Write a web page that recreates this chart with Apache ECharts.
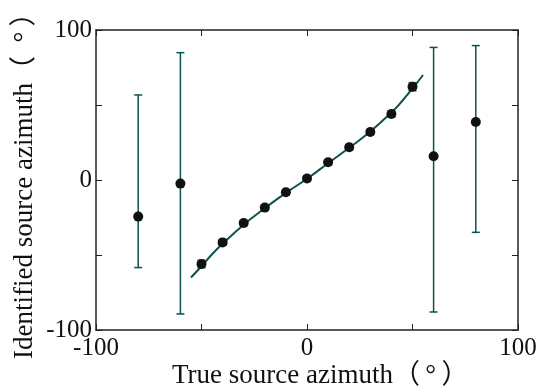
<!DOCTYPE html>
<html><head><meta charset="utf-8">
<script src="https://cdn.jsdelivr.net/npm/echarts@6/dist/echarts.min.js"></script>
<style>html,body{margin:0;padding:0;background:#fff}#c{width:541px;height:387px}</style>
</head><body><div id="c"></div>
<script>
// True source azimuth (deg)
const trueAz = [-80, -60, -50, -40, -30, -20, -10, 0, 10, 20, 30, 40, 50, 60, 80];
// Identified source azimuth mean (deg)
const identAz = [-24.4, -2.4, -56, -41.6, -28.7, -18.4, -8.2, 1.0, 11.8, 21.8, 32, 44, 62.2, 15.8, 38.7];
// error bar lower / upper ends (deg)
const errLow = [-58.4, -89.3, -58.5, -43.5, -30.5, -20, -10, -0.8, 10, 20, 30.3, 42, 59.5, -88, -34.9];
const errHigh = [56.7, 84.9, -53.5, -39.7, -27, -16.8, -6.4, 2.8, 13.6, 23.6, 33.7, 46, 64.9, 88.4, 89.6];
// fitted curve samples
const curveX = [-55, -50, -45, -40, -30, -20, -10, 0, 10, 20, 30, 40, 45, 50, 55];
const curveY = [-65, -57.5, -49.5, -42.5, -29.8, -18.8, -8.6, 0.8, 11.2, 21.5, 32.3, 45, 52.5, 61, 70];
const axisTicks = [-100, 0, 100];
const xTitle = 'True source azimuth（\u2009°\u2009）';
const yTitle = 'Identified source azimuth（\u2002°\u2009）';

const dark = '#0b5252';
const font = '"Liberation Serif", "Times New Roman", serif';
const titleFont = '"Liberation Serif", "Noto Sans CJK JP", serif';

const chart = echarts.init(document.getElementById('c'));
const fmt = v => (axisTicks.indexOf(v) >= 0 ? String(v) : '');
const axisCommon = {
  type: 'value', min: -100, max: 100, interval: 50,
  splitLine: {show: false},
  axisLine: {show: true, onZero: false, lineStyle: {color: '#222', width: 1.5}},
  axisTick: {show: true, inside: true, length: 6, lineStyle: {color: '#222', width: 1}}
};
chart.setOption({
  animation: false,
  grid: {left: 96, right: 23, top: 30, bottom: 57},
  graphic: [
    {type: 'text', x: 172, y: 376, style: {text: xTitle, font: '27px ' + titleFont, fill: '#111', align: 'left', verticalAlign: 'middle'}},
    {type: 'text', x: 25, y: 359, rotation: Math.PI / 2, style: {text: yTitle, font: '27px ' + titleFont, fill: '#111', align: 'left', verticalAlign: 'middle'}}
  ],
  xAxis: [
    Object.assign({}, axisCommon, {
      position: 'bottom',
      axisLabel: {formatter: fmt, fontFamily: font, fontSize: 25, color: '#111', margin: 6, showMinLabel: true, showMaxLabel: true}
    }),
    Object.assign({}, axisCommon, {position: 'top', axisLabel: {show: false}})
  ],
  yAxis: [
    Object.assign({}, axisCommon, {
      position: 'left',
      axisLabel: {formatter: fmt, fontFamily: font, fontSize: 25, color: '#111', margin: 4, showMinLabel: true, showMaxLabel: true}
    }),
    Object.assign({}, axisCommon, {position: 'right', axisLabel: {show: false}})
  ],
  series: [
    {
      type: 'custom',
      data: trueAz.map((x, i) => [x, errLow[i], errHigh[i]]),
      renderItem: function (params, api) {
        const x = api.value(0);
        const lo = api.coord([x, api.value(1)]);
        const hi = api.coord([x, api.value(2)]);
        const hw = 4;
        const st = {stroke: dark, lineWidth: 1.5};
        return {type: 'group', children: [
          {type: 'line', shape: {x1: lo[0], y1: lo[1], x2: hi[0], y2: hi[1]}, style: st},
          {type: 'line', shape: {x1: lo[0] - hw, y1: lo[1], x2: lo[0] + hw, y2: lo[1]}, style: st},
          {type: 'line', shape: {x1: hi[0] - hw, y1: hi[1], x2: hi[0] + hw, y2: hi[1]}, style: st}
        ]};
      },
      z: 2
    },
    {
      type: 'line', smooth: true, showSymbol: false,
      data: curveX.map((x, i) => [x, curveY[i]]),
      lineStyle: {color: dark, width: 2}, z: 3
    },
    {
      type: 'scatter', symbolSize: 10,
      data: trueAz.map((x, i) => [x, identAz[i]]),
      itemStyle: {color: '#111', opacity: 1}, z: 4
    }
  ]
});
</script></body></html>
